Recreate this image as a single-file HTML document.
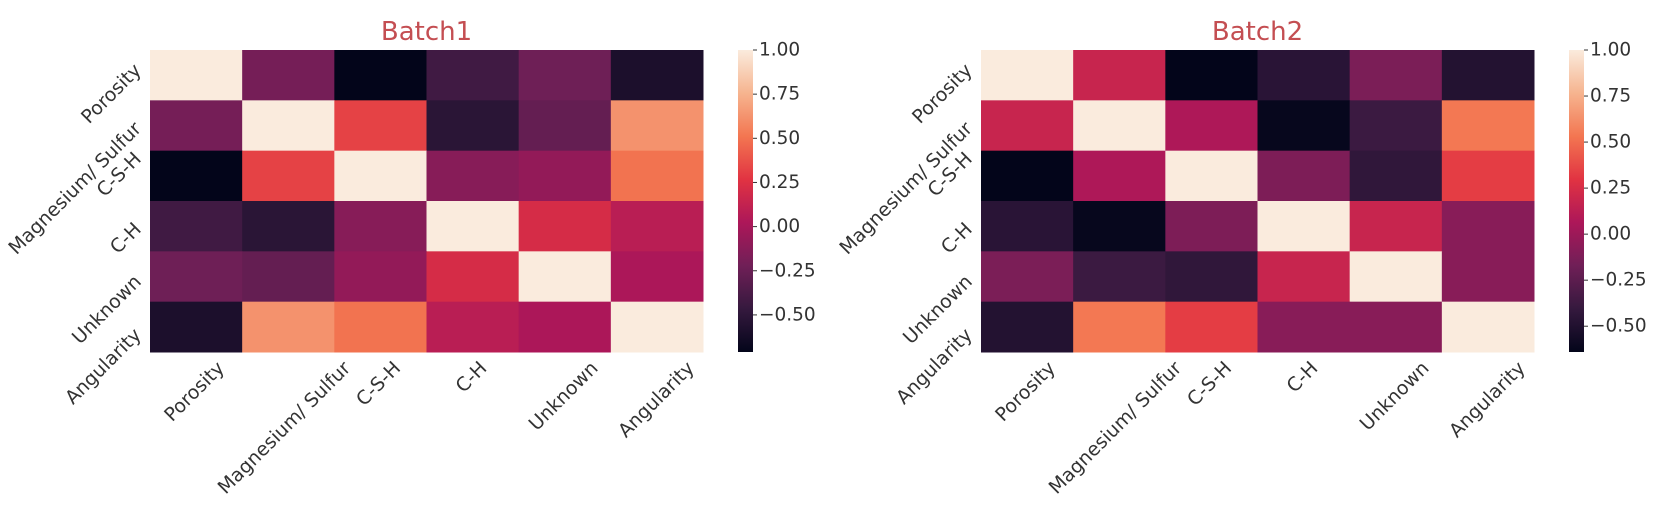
<!DOCTYPE html>
<html><head><meta charset="utf-8"><style>
html,body{margin:0;padding:0;background:#fff;width:1659px;height:515px;overflow:hidden}
svg text{font-family:"DejaVu Sans","Liberation Sans",sans-serif;fill:#333}
</style></head><body>
<svg id="root" width="1659" height="515" xmlns="http://www.w3.org/2000/svg">
<defs>
<linearGradient id="rocketGrad" x1="0" y1="1" x2="0" y2="0">
<stop offset="0" stop-color="#03051a"/><stop offset="0.143" stop-color="#35193e"/><stop offset="0.286" stop-color="#701f57"/><stop offset="0.429" stop-color="#ad1759"/><stop offset="0.571" stop-color="#e13342"/><stop offset="0.714" stop-color="#f37651"/><stop offset="0.857" stop-color="#f6b48f"/><stop offset="1" stop-color="#faebdd"/>
</linearGradient>
</defs>
</svg>
<script>
const categories = ["Porosity","Magnesium/ Sulfur","C-S-H","C-H","Unknown","Angularity"];
const batch1Values = [
 [1.00,-0.20,-0.71,-0.42,-0.23,-0.59],
 [-0.20,1.00,0.32,-0.52,-0.27,0.62],
 [-0.71,0.32,1.00,-0.13,-0.08,0.50],
 [-0.42,-0.52,-0.13,1.00,0.21,0.08],
 [-0.23,-0.27,-0.08,0.21,1.00,0.02],
 [-0.59,0.62,0.50,0.08,0.02,1.00]
];
const batch2Values = [
 [1.00,0.18,-0.64,-0.46,-0.13,-0.49],
 [0.18,1.00,0.07,-0.62,-0.38,0.54],
 [-0.64,0.07,1.00,-0.12,-0.43,0.33],
 [-0.46,-0.62,-0.12,1.00,0.18,-0.08],
 [-0.13,-0.38,-0.43,0.18,1.00,-0.08],
 [-0.49,0.54,0.33,-0.08,-0.08,1.00]
];
const titles = ["Batch1","Batch2"];
const colorbarTicks = [1.00,0.75,0.50,0.25,0.00,-0.25,-0.50];
const colorbarTickLabels = ["1.00","0.75","0.50","0.25","0.00","\u22120.25","\u22120.50"];

const NS="http://www.w3.org/2000/svg";
const svg=document.getElementById('root');
const stops=[[0,[3,5,26]],[0.143,[53,25,62]],[0.286,[112,31,87]],[0.429,[173,23,89]],[0.571,[225,51,66]],[0.714,[243,118,81]],[0.857,[246,180,143]],[1,[250,235,221]]];
function rocket(t){t=Math.max(0,Math.min(1,t));for(let i=1;i<stops.length;i++){if(t<=stops[i][0]){const a=stops[i-1],b=stops[i];const f=(t-a[0])/(b[0]-a[0]);const c=a[1].map((v,k)=>Math.round(v+(b[1][k]-v)*f));return `rgb(${c.join(',')})`;}}return 'rgb(250,235,221)';}
function el(tag,attrs,parent){const e=document.createElementNS(NS,tag);for(const k in attrs)e.setAttribute(k,attrs[k]);(parent||svg).appendChild(e);return e;}
const xLabOff=[28,62,20,14,33,37];
const yLabOff=[-8,0,-20,0,2,5];

function drawPanel(idx,vals,ox){
  const top=50,W=553,H=302,n=categories.length,cw=W/n,ch=H/n;
  let vmin=Infinity,vmax=-Infinity;vals.forEach(r=>r.forEach(v=>{vmin=Math.min(vmin,v);vmax=Math.max(vmax,v);}));
  const g=el('g',{});
  
  
  const t=el('text',{x:ox+W/2,y:40,'text-anchor':'middle','font-size':26,style:'fill:#c44e52'},g);
  t.textContent=titles[idx];
  
  
  vals.forEach((row,i)=>row.forEach((v,j)=>{
    const r=el('rect',{x:ox+j*cw,y:top+i*ch,width:cw+0.5,height:ch+0.5,fill:rocket((v-vmin)/(vmax-vmin))},g);
    
    
  }));
  categories.forEach((c,i)=>{
    const yx=ox-12,yy=top+(i+0.5)*ch+yLabOff[i];
    const yl=el('text',{x:yx,y:yy,'text-anchor':'end','dominant-baseline':'central','font-size':19,transform:`rotate(-45 ${yx} ${yy})`},g);
    yl.textContent=c;
    
    
    const xx=ox+(i+0.5)*cw+xLabOff[i]-3,xy=top+H+13;
    const xl=el('text',{x:xx,y:xy,'text-anchor':'end','dominant-baseline':'central','font-size':19,transform:`rotate(-45 ${xx} ${xy})`},g);
    xl.textContent=c;
    
    
  });
  const cbx=ox+588,cbw=15;
  const cb=el('rect',{x:cbx,y:top,width:cbw,height:H,fill:'url(#rocketGrad)'},g);
  
  
  const ys=v=>top+H-(v-vmin)/(vmax-vmin)*H;
  colorbarTicks.forEach((v,k)=>{
    const y=ys(v);
    el('line',{x1:cbx+cbw,x2:cbx+cbw+4,y1:y,y2:y,stroke:'#333','stroke-width':1},g);
    const tl=el('text',{x:cbx+cbw+6,y:y,'dominant-baseline':'central','font-size':18.5},g);
    tl.textContent=colorbarTickLabels[k];
    
    
  });
}
drawPanel(0,batch1Values,150);
drawPanel(1,batch2Values,981);
</script>
</body></html>
